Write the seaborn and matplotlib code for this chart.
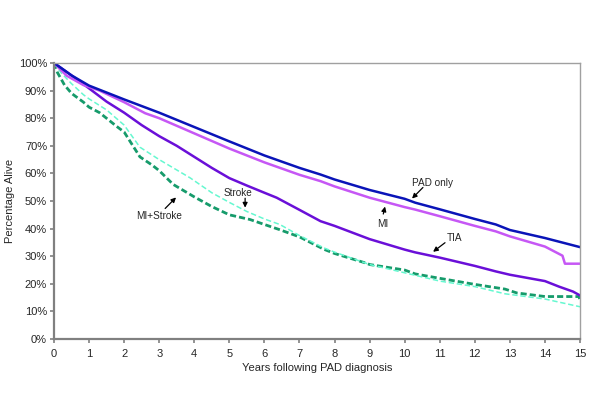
import matplotlib
matplotlib.use("Agg")
import matplotlib.pyplot as plt
import seaborn as sns
import pandas as pd

sns.set_style("white")
plt.rcParams['font.family'] = ['Liberation Sans', 'DejaVu Sans']

# ---- data ----
pad_years = [0, 0.5, 1, 2, 3, 4, 5, 6, 7, 7.6, 8, 9, 10, 10.3, 11, 12, 12.6, 13, 14, 15]
pad_vals  = [100, 95.5, 91.8, 86.8, 82, 76.8, 71.6, 66.5, 62, 59.6, 57.8, 54, 50.8, 49.4, 47, 43.5, 41.5, 39.5, 36.6, 33.3]

mi_years = [0, 0.36, 0.84, 1.3, 2, 2.6, 3, 4, 5, 6, 7, 7.6, 8, 9, 10, 10.3, 11, 12, 12.6, 13, 14, 14.5, 14.57, 15]
mi_vals  = [100, 95.4, 92.0, 90.0, 85.8, 81.8, 80, 74.5, 69, 64, 59.5, 57.2, 55.3, 51.2, 47.8, 46.9, 44.5, 41, 39, 37.2, 33.5, 30.2, 27.3, 27.3]

tia_years = [0, 0.5, 1, 1.5, 2, 2.5, 3, 3.5, 4, 4.5, 5, 5.5, 6, 6.35, 7, 7.6, 8, 9, 10, 10.3, 11, 12, 12.6, 13, 14, 14.4, 14.8, 15]
tia_vals  = [100, 95.5, 90.8, 86, 82, 77.5, 73.5, 70, 66, 62, 58.3, 55.6, 53, 51.2, 46.8, 42.7, 41, 36.2, 32.4, 31.4, 29.5, 26.5, 24.5, 23.3, 21, 19, 17.2, 15.8]

stroke_years = [0, 0.2, 0.5, 0.84, 1, 1.5, 2, 2.45, 3, 3.88, 4.5, 5, 5.5, 6, 6.44, 7, 7.7, 8, 9, 10, 11, 12, 12.86, 14, 15]
stroke_vals  = [100, 96.5, 92.5, 88.5, 87, 83, 77.5, 69.5, 65, 58.4, 53, 49.5, 46.2, 43.5, 41.5, 37.5, 33, 31.5, 27, 24, 21, 19, 16.4, 14.5, 11.7]

mistroke_years = [0, 0.1, 0.3, 0.5, 0.84, 1, 1.3, 1.79, 2, 2.2, 2.45, 2.8, 3, 3.4, 3.88, 4, 4.5, 5, 5.59, 6, 6.44, 7, 7.7, 8, 8.9, 9, 10, 10.3, 11, 12, 12.86, 13.2, 14, 14.97, 15]
mistroke_vals  = [100, 96.5, 92, 89, 85.8, 84, 82, 77, 75, 71, 66, 63, 61, 56, 52.4, 51.5, 48, 45, 43.3, 41.5, 39.6, 37, 32.5, 31, 27.5, 27, 25, 23.6, 22, 19.8, 18.1, 16.7, 15.4, 15.4, 13.9]

x_ticks = list(range(0, 16))
y_ticks = list(range(0, 101, 10))

fig = plt.figure(figsize=(6.0, 4.09), dpi=100)
ax = fig.add_axes([0.09, 0.171, 0.8767, 0.675])

sns.lineplot(x=mistroke_years, y=mistroke_vals, ax=ax, color="#169b6b", lw=2.0,
             linestyle=(0, (2.2, 1.1)), estimator=None, sort=False)
sns.lineplot(x=stroke_years, y=stroke_vals, ax=ax, color="#66f8d0", lw=1.1,
             linestyle=(0, (3.5, 1.8)), estimator=None, sort=False)
sns.lineplot(x=tia_years, y=tia_vals, ax=ax, color="#6a0fd8", lw=1.8, estimator=None, sort=False)
sns.lineplot(x=mi_years, y=mi_vals, ax=ax, color="#c657f5", lw=1.8, estimator=None, sort=False)
sns.lineplot(x=pad_years, y=pad_vals, ax=ax, color="#0a14b8", lw=1.8, estimator=None, sort=False)

ax.set_xlim(0, 15)
ax.set_ylim(0, 100)
ax.set_xticks(x_ticks)
ax.set_xticklabels([str(v) for v in x_ticks])
ax.set_yticks(y_ticks)
ax.set_yticklabels([f"{v}%" for v in y_ticks])
ax.tick_params(axis="both", labelsize=8, length=3, width=1.2, color="#808080",
               direction="out", left=True, bottom=True)
ax.tick_params(axis="x", pad=4)
ax.tick_params(axis="y", pad=2)
for side in ["left", "bottom"]:
    ax.spines[side].set_color("#808080")
    ax.spines[side].set_linewidth(1.6)
for side in ["top", "right"]:
    ax.spines[side].set_color("#a0a0a0")
    ax.spines[side].set_linewidth(1.0)

ax.set_xlabel("Years following PAD diagnosis", fontsize=8, labelpad=3)
ax.set_ylabel("Percentage Alive", fontsize=8, labelpad=3)

ann = [
    ("PAD only", (10.8, 56.7), (10.52, 54.9), (10.21, 50.9)),
    ("MI", (9.38, 41.8), (9.39, 45.3), (9.44, 48.0)),
    ("TIA", (11.43, 36.7), (11.15, 34.9), (10.81, 31.6)),
    ("Stroke", (5.25, 53.0), (5.45, 51.0), (5.45, 47.6)),
    ("MI+Stroke", (3.0, 44.7), (3.17, 47.3), (3.48, 51.3)),
]
for label, tpos, tail, tip in ann:
    ax.text(tpos[0], tpos[1], label, fontsize=7.2, ha="center", va="center")
    ax.annotate("", xy=tip, xytext=tail,
                arrowprops=dict(arrowstyle="-|>", color="black", lw=0.9,
                                mutation_scale=7, shrinkA=0, shrinkB=0))

fig.savefig("out.png", dpi=100)
